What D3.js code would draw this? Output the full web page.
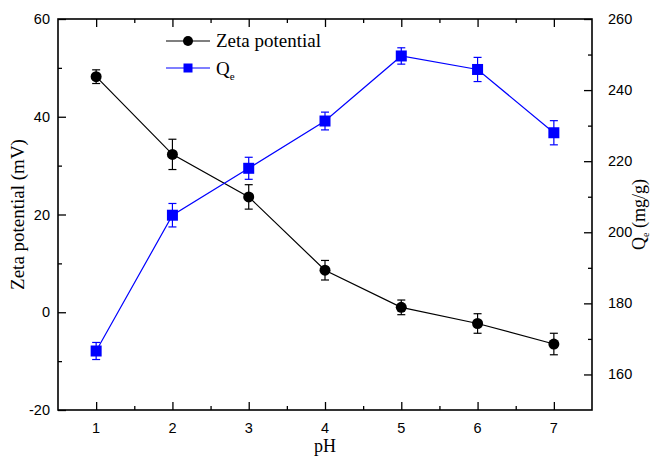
<!DOCTYPE html>
<html><head><meta charset="utf-8">
<script src="https://cdn.jsdelivr.net/npm/d3@7"></script>
<style>body{margin:0;background:#fff}svg{display:block}</style></head>
<body><svg id="c" width="651" height="456"></svg>
<script>
// ---- data ----
const pH = [1, 2, 3, 4, 5, 6, 7];
const zeta = [48.2, 32.3, 23.6, 8.6, 1.0, -2.3, -6.5];
const zetaErr = [1.4, 3.1, 2.5, 2.0, 1.5, 2.0, 2.2];
const qe = [166.6, 204.8, 218.0, 231.3, 249.6, 245.8, 228.0];
const qeErr = [2.4, 3.3, 3.1, 2.5, 2.3, 3.4, 3.4];
const xTicks = [1, 2, 3, 4, 5, 6, 7];
const xMinor = [1.5, 2.5, 3.5, 4.5, 5.5, 6.5];
const yLeftTicks = [-20, 0, 20, 40, 60];
const yLeftMinor = [-10, 10, 30, 50];
const yRightTicks = [160, 180, 200, 220, 240, 260];
const yRightMinor = [170, 190, 210, 230, 250];

const L = 58, R = 592, T = 19, B = 410;
const svg = d3.select('#c');
const x = d3.scaleLinear().domain([0.5, 7.5]).range([L, R]);
const yL = d3.scaleLinear().domain([-20, 60]).range([B, T]);
const yR = d3.scaleLinear().domain([150, 260]).range([B, T]);

const sans = 'Liberation Sans, Arial, sans-serif';
const serif = 'Liberation Serif, Times New Roman, serif';

// axes (inward ticks)
function styleAxis(g){ g.select('.domain').remove(); g.selectAll('line').attr('stroke','#000').attr('stroke-width',1.3); }
svg.append('g').attr('transform',`translate(0,${B})`).call(d3.axisTop(x).tickValues(xTicks).tickSize(8).tickFormat('')).call(styleAxis);
svg.append('g').attr('transform',`translate(0,${B})`).call(d3.axisTop(x).tickValues(xMinor).tickSize(4).tickFormat('')).call(styleAxis);
svg.append('g').attr('transform',`translate(0,${T})`).call(d3.axisBottom(x).tickValues(xTicks).tickSize(8).tickFormat('')).call(styleAxis);
svg.append('g').attr('transform',`translate(0,${T})`).call(d3.axisBottom(x).tickValues(xMinor).tickSize(4).tickFormat('')).call(styleAxis);
svg.append('g').attr('transform',`translate(${L},0)`).call(d3.axisRight(yL).tickValues(yLeftTicks).tickSize(8).tickFormat('')).call(styleAxis);
svg.append('g').attr('transform',`translate(${L},0)`).call(d3.axisRight(yL).tickValues(yLeftMinor).tickSize(4).tickFormat('')).call(styleAxis);
svg.append('g').attr('transform',`translate(${R},0)`).call(d3.axisLeft(yR).tickValues(yRightTicks).tickSize(8).tickFormat('')).call(styleAxis);
svg.append('g').attr('transform',`translate(${R},0)`).call(d3.axisLeft(yR).tickValues(yRightMinor).tickSize(4).tickFormat('')).call(styleAxis);

// tick labels
svg.append('g').selectAll('text').data(xTicks).join('text')
  .attr('x',d=>x(d)).attr('y',B+23).attr('text-anchor','middle')
  .attr('font-family',sans).attr('font-size',14.5).text(d=>d);
svg.append('g').selectAll('text').data(yLeftTicks).join('text')
  .attr('x',L-8).attr('y',d=>yL(d)+5).attr('text-anchor','end')
  .attr('font-family',sans).attr('font-size',14.5).text(d=>d);
svg.append('g').selectAll('text').data(yRightTicks).join('text')
  .attr('x',R+16).attr('y',d=>yR(d)+5).attr('text-anchor','start')
  .attr('font-family',sans).attr('font-size',14.5).text(d=>d);

// frame
svg.append('rect').attr('x',L).attr('y',T).attr('width',R-L).attr('height',B-T)
  .attr('fill','none').attr('stroke','#000').attr('stroke-width',1.6);

// titles
svg.append('text').attr('x',x(4)).attr('y',452).attr('text-anchor','middle')
  .attr('font-family',serif).attr('font-size',18).text('pH');
svg.append('text').attr('transform',`translate(24,${(T+B)/2}) rotate(-90)`).attr('text-anchor','middle')
  .attr('font-family',serif).attr('font-size',19).text('Zeta potential (mV)');
const rt = svg.append('text').attr('transform',`translate(645,${(T+B)/2}) rotate(-90)`).attr('text-anchor','middle')
  .attr('font-family',serif).attr('font-size',18);
rt.append('tspan').text('Q');
rt.append('tspan').attr('font-size',10).attr('dy',4).text('e');
rt.append('tspan').attr('dy',-4).text(' (mg/g)');

const zData = pH.map((p,i)=>({p, v:zeta[i], e:zetaErr[i]}));
const qData = pH.map((p,i)=>({p, v:qe[i], e:qeErr[i]}));

function series(data, y, color, shape){
  const g = svg.append('g');
  g.append('path').datum(data).attr('fill','none').attr('stroke',color).attr('stroke-width',1.2)
    .attr('d', d3.line().x(d=>x(d.p)).y(d=>y(d.v)));
  const eb = g.append('g').attr('stroke',color).attr('stroke-width',1.2);
  eb.selectAll('.v').data(data).join('line').attr('x1',d=>x(d.p)).attr('x2',d=>x(d.p))
    .attr('y1',d=>y(d.v-d.e)).attr('y2',d=>y(d.v+d.e));
  eb.selectAll('.t').data(data).join('line').attr('x1',d=>x(d.p)-4).attr('x2',d=>x(d.p)+4)
    .attr('y1',d=>y(d.v+d.e)).attr('y2',d=>y(d.v+d.e));
  eb.selectAll('.b').data(data).join('line').attr('x1',d=>x(d.p)-4).attr('x2',d=>x(d.p)+4)
    .attr('y1',d=>y(d.v-d.e)).attr('y2',d=>y(d.v-d.e));
  if(shape==='circle'){
    g.selectAll('circle').data(data).join('circle').attr('cx',d=>x(d.p)).attr('cy',d=>y(d.v)).attr('r',5.5).attr('fill',color);
  } else {
    g.selectAll('rect').data(data).join('rect').attr('x',d=>x(d.p)-5.5).attr('y',d=>y(d.v)-5.5).attr('width',11).attr('height',11).attr('fill',color);
  }
}
series(zData, yL, '#000', 'circle');
series(qData, yR, '#0000ff', 'square');

// legend
const lg = svg.append('g');
lg.append('line').attr('x1',166).attr('x2',210).attr('y1',41).attr('y2',41).attr('stroke','#000').attr('stroke-width',1.2);
lg.append('circle').attr('cx',188).attr('cy',41).attr('r',5).attr('fill','#000');
lg.append('text').attr('x',216).attr('y',47).attr('font-family',serif).attr('font-size',19).text('Zeta potential');
lg.append('line').attr('x1',166).attr('x2',210).attr('y1',68).attr('y2',68).attr('stroke','#0000ff').attr('stroke-width',1.2);
lg.append('rect').attr('x',183.5).attr('y',63.5).attr('width',9).attr('height',9).attr('fill','#0000ff');
const lt = lg.append('text').attr('x',216).attr('y',75).attr('font-family',serif).attr('font-size',19);
lt.append('tspan').text('Q');
lt.append('tspan').attr('font-size',11).attr('dy',5).text('e');
</script></body></html>
